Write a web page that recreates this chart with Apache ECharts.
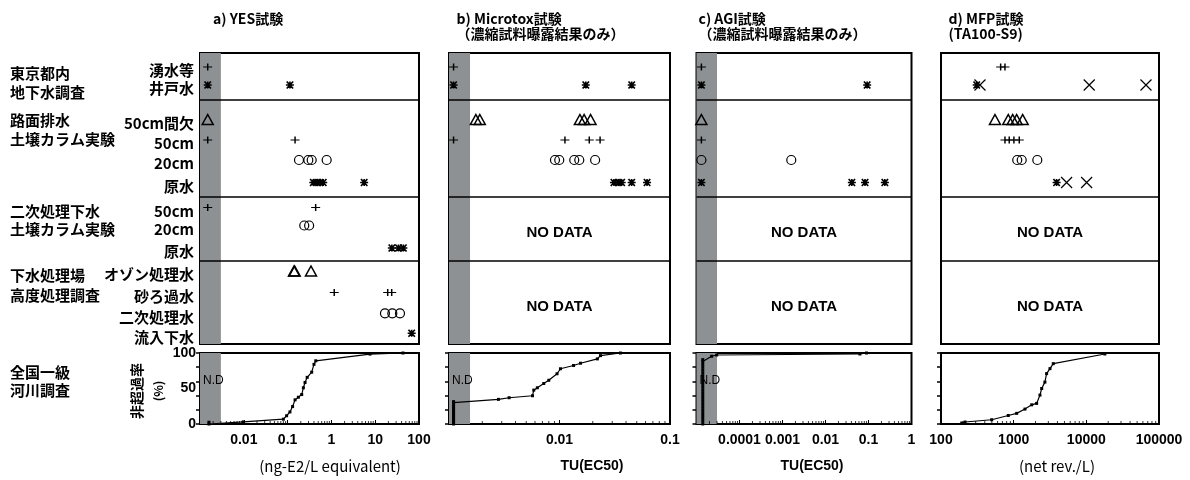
<!DOCTYPE html>
<html><head><meta charset="utf-8">
<script src="https://cdn.jsdelivr.net/npm/echarts@6/dist/echarts.min.js"></script>
<style>html,body{margin:0;padding:0;background:#fff}#c{width:1190px;height:480px}</style>
</head><body><div id="c"></div>
<script>
// ---------------- data ----------------
const groupLabels = [['東京都内','地下水調査'],['路面排水','土壌カラム実験'],['二次処理下水','土壌カラム実験'],['下水処理場','高度処理調査'],['全国一級','河川調査']];
const rowLabels = ['湧水等','井戸水','50cm間欠','50cm','20cm','原水','50cm','20cm','原水','オゾン処理水','砂ろ過水','二次処理水','流入下水'];
const panelTitles = [['a) YES試験'],['b) Microtox試験','（濃縮試料曝露結果のみ）'],['c) AGI試験','（濃縮試料曝露結果のみ）'],['d) MFP試験','(TA100-S9)']];
const unitLabels = ['(ng-E2/L equivalent)','TU(EC50)','TU(EC50)','(net rev./L)'];
const cdfAxisName = ['非超過率','(%)'];
const cdfTickLabels = [0,50,100];
const noDataText = 'NO DATA';
const ndText = 'N.D';

// a) YES (ng-E2/L equivalent), one list per row
const yesValues = [
  [0.0015],
  [0.0015, 0.113],
  [0.0015],
  [0.0015, 0.148],
  [0.182, 0.297, 0.355, 0.78],
  [0.386, 0.46, 0.55, 0.65, 5.6],
  [0.0015, 0.437],
  [0.24, 0.31],
  [24, 34, 44],
  [0.14, 0.145, 0.342],
  [1.16, 19.3, 23.8],
  [16.7, 24.6, 36.8],
  [68]
];
// b) Microtox TU(EC50)
const microtoxValues = [
  [0.0011],
  [0.0011, 0.0173, 0.045],
  [0.00175, 0.0019, 0.0153, 0.0167, 0.0191],
  [0.0011, 0.0112, 0.0186, 0.0233],
  [0.0091, 0.00995, 0.0136, 0.0151, 0.021],
  [0.0311, 0.034, 0.0365, 0.045, 0.062],
  [], [], [], [], [], [], []
];
// c) AGI TU(EC50)
const agiValues = [
  [0.000013],
  [0.000013, 0.093],
  [0.000013],
  [0.000013],
  [0.000013, 0.0016],
  [0.000013, 0.041, 0.083, 0.24],
  [], [], [], [], [], [], []
];
// d) MFP (net rev./L)
const mfpValues = [
  [662, 759],
  [310],
  [553, 843, 969, 1099, 1330],
  [759, 869, 1008, 1194],
  [1120, 1290, 2115],
  [3900],
  [], [], [], [], [], [], []
];
const mfpCrossValues = [[], [344, 10960, 66200], [], [], [], [5350, 10090], [], [], [], [], [], [], []];

// 全国一級河川調査: cumulative distribution (value, 非超過率 %)
const yesCdfX = [0.0016, 0.0016, 0.0097, 0.08, 0.095, 0.113, 0.13, 0.148, 0.176, 0.21, 0.229, 0.25, 0.28, 0.355, 0.4, 0.44, 7.6, 43];
const yesCdfP = [0, 2.5, 3, 6.8, 11.6, 17, 24.6, 34, 37.7, 41.5, 51, 58.5, 65.7, 73, 84, 89, 98.5, 100];
const microtoxCdfX = [0.0011, 0.0011, 0.0011, 0.0011, 0.0011, 0.0011, 0.0011, 0.0011, 0.0011, 0.0011, 0.0011, 0.0011, 0.0011, 0.0011, 0.0028, 0.0035, 0.0057, 0.00585, 0.0063, 0.0072, 0.008, 0.0095, 0.0102, 0.0134, 0.0155, 0.022, 0.0235, 0.0356];
const microtoxCdfP = [0, 2.5, 5, 7.5, 10, 12.5, 15, 17.5, 20, 22.5, 25, 27.5, 30, 31.5, 34.7, 37, 39.8, 47.7, 51, 57, 61.6, 70.8, 77.8, 82.4, 85.6, 91.7, 96.3, 100];
const agiCdfX = [0.000014, 0.000014, 0.000014, 0.000014, 0.000014, 0.000014, 0.000014, 0.000014, 0.000014, 0.000014, 0.000014, 0.000014, 0.000014, 0.000014, 0.000014, 0.000014, 0.000014, 0.000014, 0.000014, 0.000014, 0.000014, 0.000014, 0.000014, 0.000014, 0.0000225, 0.0000295, 0.063, 0.09];
const agiCdfP = [0, 4, 8, 12, 16, 20, 24, 28, 32, 36, 40, 44, 48, 52, 56, 60, 64, 68, 72, 76, 80, 84, 88, 90.7, 95.4, 97.2, 98.6, 100];
const mfpCdfX = [193, 214, 498, 843, 1100, 1430, 1770, 2070, 2300, 2430, 2690, 2840, 3160, 3510, 18000];
const mfpCdfP = [1.4, 2.8, 6, 12, 15, 21, 27, 29, 40.7, 50, 59, 71, 78, 85, 98.6];

// ---------------- layout / style ----------------
const JP = '"Noto Sans CJK JP", sans-serif';
const LAT = '"Liberation Sans", Arial, sans-serif';
const GRAY = '#8e9193';
const TOP_Y0 = 53, TOP_Y1 = 344;          // top panel pixel span (used as its y scale)
const BOT_TOP = 353, BOT_H = 71;
const rowY = [67, 85, 119.5, 140, 160, 182.5, 207.5, 225.5, 248, 271, 292.5, 313.3, 333.3];
const sepY = [99.3, 196.7, 261];
const groupY = [[73, 92], [120, 139], [211, 229.5], [275, 295], [372, 390]];
const rowMarker = ['plus','star','tri','plus','circle','star','plus','circle','star','tri','plus','circle','star'];
const SYM = {
  plus:   {symbol:'path://M0,4 L10,4 M5,0 L5,8', size:[9,7], bw:1.3},
  star:   {symbol:'path://M0,4 L10,4 M1,0 L9,8 M1,8 L9,0 M5,0 L5,8', size:[8,7], bw:1.5},
  circle: {symbol:'circle', size:9, bw:1.2},
  tri:    {symbol:'triangle', size:[11,10], bw:1.5},
  cross:  {symbol:'path://M0,0 L10,10 M0,10 L10,0', size:11, bw:1.2}
};
const cols = [
  {left:200,   width:219, min:0.001,   max:100,    nd:0.003,   rows:yesValues,      cdfX:yesCdfX,      cdfP:yesCdfP,      title:[213,19],   unitBold:false, unitX:330},
  {left:449,   width:221, min:0.001,   max:0.1,    nd:0.00155, rows:microtoxValues, cdfX:microtoxCdfX, cdfP:microtoxCdfP, title:[456.5,19], noData:true, unitBold:true,  unitX:592},
  {left:696.5, width:215, min:0.00001, max:1,      nd:0.00003, rows:agiValues,      cdfX:agiCdfX,      cdfP:agiCdfP,      title:[698.5,19], noData:true, unitBold:true,  unitX:812},
  {left:941,   width:218, min:100,     max:100000, nd:null,    rows:mfpValues,      cdfX:mfpCdfX,      cdfP:mfpCdfP,      title:[948.5,19], noData:true, cross:mfpCrossValues, unitBold:false, unitX:1057}
];

function fmtLog(v){
  const e = Math.round(Math.log10(v));
  return e < 0 ? v.toFixed(-e) : String(Math.round(v));
}

const grid = [], xAxis = [], yAxis = [], series = [];
cols.forEach((c, i) => {
  const gt = 2*i, gb = 2*i + 1;
  grid.push({left:c.left, width:c.width, top:TOP_Y0, height:TOP_Y1-TOP_Y0, show:true, borderColor:'#000', borderWidth:2});
  grid.push({left:c.left, width:c.width, top:BOT_TOP, height:BOT_H, show:true, borderColor:'#000', borderWidth:2});
  xAxis.push({type:'log', gridIndex:gt, min:c.min, max:c.max, show:false});
  xAxis.push({type:'log', gridIndex:gb, min:c.min, max:c.max,
    axisLine:{show:false}, splitLine:{show:false},
    axisTick:{show:true, inside:true, length:4, lineStyle:{color:'#000', width:1}},
    axisLabel:{margin:9, color:'#000', fontFamily:LAT, fontWeight:'bold', fontSize:14,
      formatter: v => (Math.abs(Math.log10(v) - Math.log10(c.min)) < 1e-6 && c.nd) ? '' : fmtLog(v)}});
  yAxis.push({type:'value', gridIndex:gt, min:TOP_Y0, max:TOP_Y1, inverse:true, show:false});
  yAxis.push({type:'value', gridIndex:gb, position:'left', min:0, max:100, interval:20,
    axisLine:{show:false}, splitLine:{show:false}, axisLabel:{show:false},
    axisTick:{show:true, inside:false, length:4, lineStyle:{color:'#000', width:1.5}}});

  // decorations of top panel: gray N.D band, section separators, NO DATA
  const areas = [];
  if (c.nd) areas.push([{xAxis:c.min, itemStyle:{color:GRAY}}, {xAxis:c.nd}]);
  if (c.noData) {
    [[sepY[1], sepY[2]], [sepY[2], TOP_Y1]].forEach(([a, b]) => {
      areas.push([{xAxis:c.min, yAxis:a, itemStyle:{color:'rgba(0,0,0,0)'},
        label:{show:true, position:'inside', offset:[0,4], formatter:noDataText, color:'#000', fontFamily:LAT, fontWeight:'bold', fontSize:15}},
        {xAxis:c.max, yAxis:b}]);
    });
  }
  series.push({type:'scatter', xAxisIndex:gt, yAxisIndex:gt, data:[], silent:true,
    markArea:{silent:true, label:{show:false}, data:areas},
    markLine:{silent:true, symbol:['none','none'], label:{show:false},
      lineStyle:{color:'#000', width:1.5, type:'solid'}, data:sepY.map(y => ({yAxis:y}))}});

  // data points of top panel
  const addRows = (rows, markerOf) => rows.forEach((vals, r) => {
    if (!vals.length) return;
    const s = SYM[markerOf(r)];
    series.push({type:'scatter', xAxisIndex:gt, yAxisIndex:gt, silent:true, z:5,
      symbol:s.symbol, symbolSize:s.size,
      itemStyle:{color:'rgba(0,0,0,0)', borderColor:'#000', borderWidth:s.bw, opacity:1},
      data:vals.map(v => [v, rowY[r]])});
  });
  addRows(c.rows, r => rowMarker[r]);
  if (c.cross) addRows(c.cross, () => 'cross');

  // bottom panel: N.D band + cumulative curve
  series.push({type:'line', xAxisIndex:gb, yAxisIndex:gb, silent:true, z:5,
    symbol:'rect', symbolSize:3, showAllSymbol:true,
    itemStyle:{color:'#000'}, lineStyle:{color:'#000', width:1.2},
    data:c.cdfX.map((x, k) => [x, c.cdfP[k]]),
    markArea: c.nd ? {silent:true, data:[[{xAxis:c.min, itemStyle:{color:GRAY},
      label:{show:true, position:'insideLeft', distance:3, offset:[0,-8], formatter:ndText, color:'#000', fontFamily:LAT, fontSize:12}},
      {xAxis:c.nd}]]} : undefined});

  // minor log ticks on the bottom axis
  const minor = [];
  for (let e = Math.round(Math.log10(c.min)); e < Math.round(Math.log10(c.max)); e++)
    for (let k = 2; k <= 9; k++) minor.push([k * Math.pow(10, e), 0]);
  series.push({type:'scatter', xAxisIndex:gb, yAxisIndex:gb, silent:true, z:6,
    symbol:'rect', symbolSize:[1,3], symbolOffset:[0,-1.5], itemStyle:{color:'#000'}, data:minor});
});
// labels 0 / 50 / 100 of panel a
yAxis.push({type:'value', gridIndex:1, position:'left', offset:0, min:0, max:100, interval:50,
  axisLine:{show:false}, axisTick:{show:false}, splitLine:{show:false},
  axisLabel:{margin:4, color:'#000', fontFamily:LAT, fontWeight:'bold', fontSize:14,
    formatter: v => cdfTickLabels.includes(v) ? String(v) : ''}});

// ---------------- texts ----------------
const g = [];
const txt = (text, x, y, font, align, extra) => g.push(Object.assign({type:'text', x, y, silent:true,
  style:{text, font, fill:'#000', textAlign:align, align, textVerticalAlign:'middle', verticalAlign:'middle'}}, extra || {}));
groupLabels.forEach((lines, i) => lines.forEach((t, j) => txt(t, 10, groupY[i][j], 'bold 15px ' + JP, 'left')));
rowLabels.forEach((t, r) => txt(t, 194, rowY[r] + 3.5, 'bold 15px ' + JP, 'right'));
cols.forEach((c, i) => {
  panelTitles[i].forEach((t, j) => txt(t, c.title[0], c.title[1] + j * 15, 'bold 14px ' + JP, 'left'));
  txt(unitLabels[i], c.unitX, 466, (c.unitBold ? 'bold 14px ' + LAT : '15px ' + JP), 'center');
});
txt(cdfAxisName[0], 137, 391, 'bold 14px ' + JP, 'center', {rotation: Math.PI/2});
txt(cdfAxisName[1], 158, 391, 'bold 12px ' + JP, 'center', {rotation: Math.PI/2});

const chart = echarts.init(document.getElementById('c'));
chart.setOption({animation:false, backgroundColor:'#fff', grid, xAxis, yAxis, series, graphic:{elements:g}});
</script></body></html>
